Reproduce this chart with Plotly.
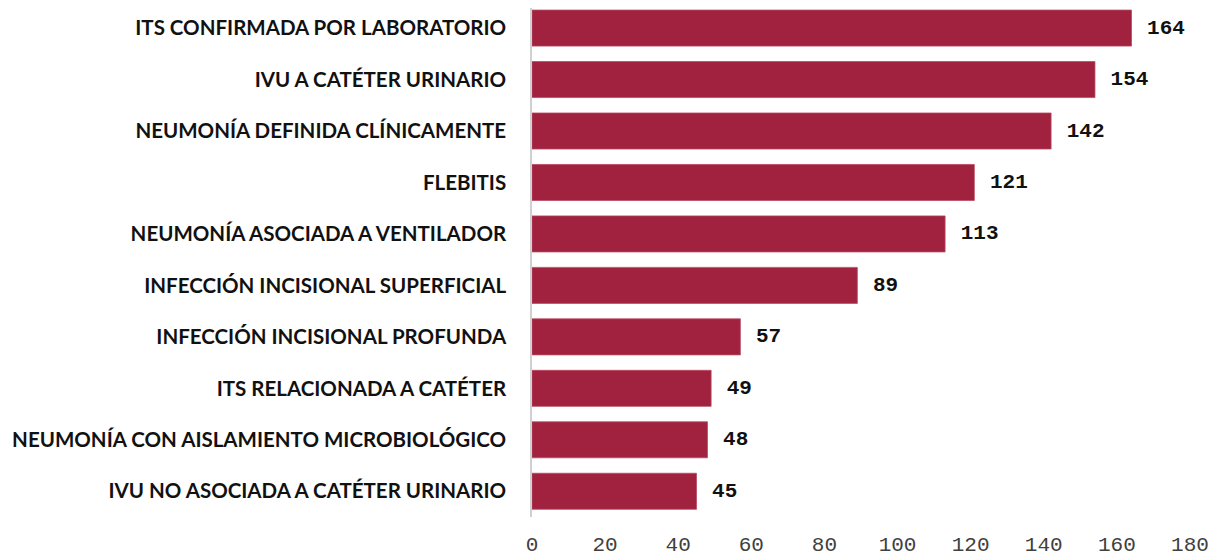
import plotly.graph_objects as go

categories = [
    "ITS CONFIRMADA POR LABORATORIO",
    "IVU A CATÉTER URINARIO",
    "NEUMONÍA DEFINIDA CLÍNICAMENTE",
    "FLEBITIS",
    "NEUMONÍA ASOCIADA A VENTILADOR",
    "INFECCIÓN INCISIONAL SUPERFICIAL",
    "INFECCIÓN INCISIONAL PROFUNDA",
    "ITS RELACIONADA A CATÉTER",
    "NEUMONÍA CON AISLAMIENTO MICROBIOLÓGICO",
    "IVU NO ASOCIADA A CATÉTER URINARIO",
]
values = [164, 154, 142, 121, 113, 89, 57, 49, 48, 45]
tick_values = [0, 20, 40, 60, 80, 100, 120, 140, 160, 180]

fig = go.Figure(go.Bar(
    x=values[::-1],
    y=categories[::-1],
    orientation="h",
    marker=dict(color="#A0223F", line=dict(color="#B84A63", width=0.8)),
    text=[str(v) for v in values[::-1]],
    texttemplate=" %{text}",
    textposition="outside",
    textfont=dict(family="Liberation Mono", size=21, color="#111111", weight="bold"),
    cliponaxis=False,
))

fig.update_layout(
    width=1215, height=550,
    margin=dict(l=524, r=33, t=0, b=41, autoexpand=False),
    paper_bgcolor="white", plot_bgcolor="white",
    bargap=0.3,
    showlegend=False,
    xaxis=dict(
        range=[0, 180], tickvals=tick_values, showgrid=False, zeroline=False,
        showline=False, ticks="outside", ticklen=8, tickcolor="rgba(0,0,0,0)",
        tickfont=dict(family="Liberation Mono", size=21, color="#404040"),
        automargin=False,
    ),
    yaxis=dict(
        range=[-0.5, 9.39],
        showgrid=False, showline=True, linecolor="#D0D0D0", linewidth=1.5,
        ticks="outside", ticklen=20, tickcolor="rgba(0,0,0,0)",
        tickfont=dict(family="Lato", size=20.5, color="#111111", weight="bold"),
        automargin=False,
    ),
)

fig.write_html("out.html")
